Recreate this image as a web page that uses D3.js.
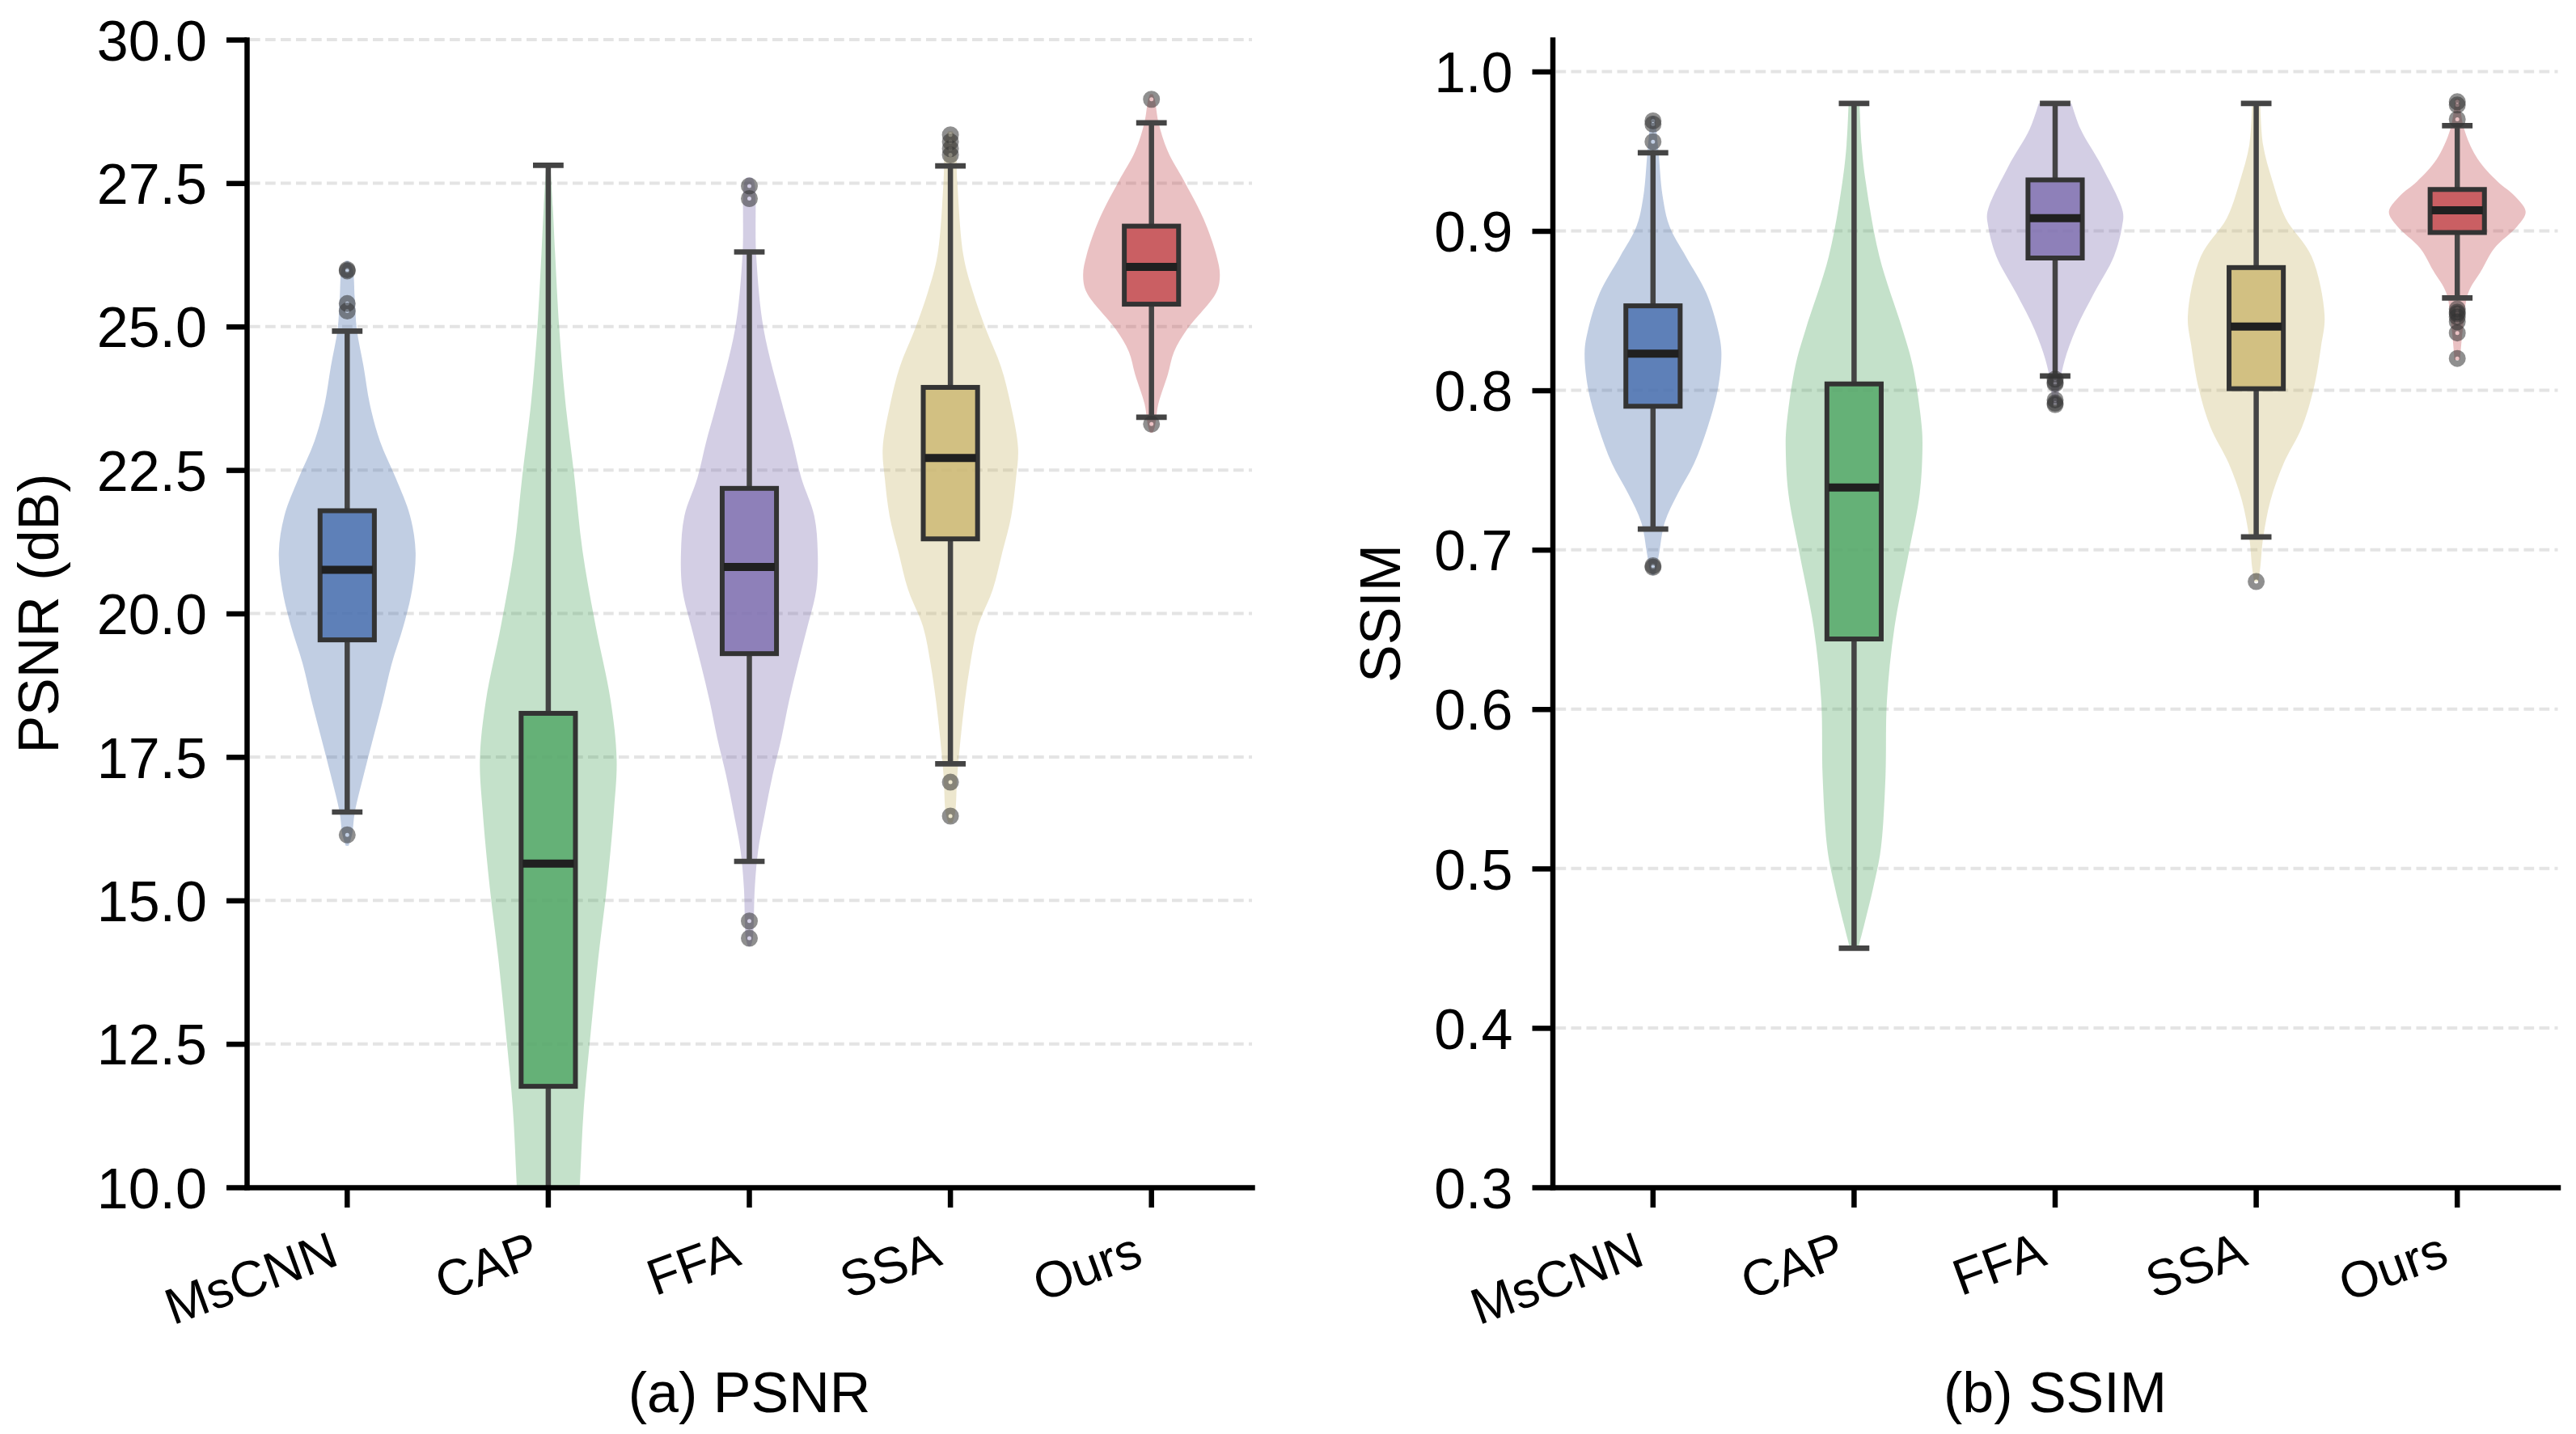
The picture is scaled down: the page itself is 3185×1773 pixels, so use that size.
<!DOCTYPE html>
<html><head><meta charset="utf-8">
<script src="https://cdn.jsdelivr.net/npm/d3@7"></script>
<style>
html,body{margin:0;padding:0;background:#fff;}
svg{display:block;font-family:"Liberation Sans",Arial,Helvetica,sans-serif;}
</style>
</head><body>
<svg id="chart" width="3185" height="1773"></svg>
<script>
// ---------------- DATA ----------------
const categories = ["MsCNN", "CAP", "FFA", "SSA", "Ours"];
const groupColors = ["#4C72B0", "#55A868", "#8172B2", "#CCB974", "#C44E52"];

const psnrTicks = [10.0, 12.5, 15.0, 17.5, 20.0, 22.5, 25.0, 27.5, 30.0];
const ssimTicks = [0.3, 0.4, 0.5, 0.6, 0.7, 0.8, 0.9, 1.0];

// PSNR box statistics
const psnrQ1 = [19.54, 11.76, 19.30, 21.30, 25.39];
const psnrMedian = [20.76, 15.64, 20.81, 22.71, 26.04];
const psnrQ3 = [21.79, 18.26, 22.18, 23.94, 26.75];
const psnrWhiskerLow = [16.54, 5.0, 15.68, 17.38, 23.42];
const psnrWhiskerHigh = [24.92, 27.81, 26.30, 27.80, 28.55];
const psnrOutliers = [
  [25.99, 25.97, 25.40, 25.27, 16.14],
  [],
  [27.45, 27.23, 14.64, 14.34],
  [28.34, 28.22, 28.10, 27.99, 17.06, 16.47],
  [28.96, 23.30]
];
// PSNR violin outlines: [value, relative half-width]
const psnrViolins = [
  [[26.15,0.02],[26.0,0.08],[25.5,0.11],[24.95,0.14],[24.3,0.24],[23.65,0.33],[23.0,0.48],[22.36,0.71],[21.7,0.92],[21.07,1.0],[20.42,0.95],[19.77,0.82],[19.12,0.65],[18.47,0.52],[17.83,0.38],[17.18,0.24],[16.53,0.11],[16.14,0.07],[15.95,0.02]],
  [[27.82,0.03],[27.0,0.07],[26.27,0.1],[24.98,0.16],[23.69,0.25],[22.4,0.38],[21.1,0.5],[19.8,0.69],[18.5,0.91],[17.47,1.0],[16.56,0.96],[15.27,0.86],[13.98,0.73],[12.69,0.62],[11.4,0.52],[10.0,0.46],[8.5,0.4],[7.0,0.33]],
  [[27.6,0.03],[27.53,0.07],[26.24,0.1],[24.95,0.21],[23.65,0.48],[23.0,0.63],[22.36,0.76],[21.7,0.95],[21.07,1.0],[20.42,0.98],[19.77,0.85],[19.12,0.71],[18.47,0.58],[17.83,0.47],[17.18,0.34],[16.53,0.23],[15.88,0.13],[15.23,0.08],[14.33,0.05],[14.2,0.02]],
  [[28.4,0.03],[28.31,0.07],[27.53,0.1],[26.24,0.19],[25.6,0.33],[24.95,0.52],[24.3,0.74],[23.65,0.88],[22.88,0.99],[22.36,0.96],[21.7,0.89],[21.07,0.76],[20.42,0.62],[19.77,0.4],[19.12,0.29],[18.47,0.21],[17.83,0.15],[17.18,0.1],[16.53,0.07],[16.35,0.03]],
  [[29.05,0.02],[28.95,0.05],[28.57,0.1],[28.05,0.24],[27.53,0.48],[26.88,0.76],[26.24,0.95],[25.9,1.0],[25.6,0.95],[24.95,0.52],[24.56,0.33],[24.17,0.24],[23.65,0.1],[23.26,0.05],[23.15,0.02]]
];

// SSIM box statistics
const ssimQ1 = [0.790, 0.644, 0.883, 0.801, 0.899];
const ssimMedian = [0.823, 0.739, 0.908, 0.840, 0.913];
const ssimQ3 = [0.853, 0.804, 0.932, 0.877, 0.926];
const ssimWhiskerLow = [0.713, 0.450, 0.809, 0.708, 0.858];
const ssimWhiskerHigh = [0.949, 0.980, 0.980, 0.980, 0.966];
const ssimOutliers = [
  [0.969, 0.967, 0.956, 0.690, 0.689],
  [],
  [0.807, 0.805, 0.804, 0.794, 0.792, 0.791],
  [0.680],
  [0.981, 0.979, 0.970, 0.851, 0.849, 0.848, 0.846, 0.843, 0.836, 0.820]
];
const ssimViolins = [
  [[0.972,0.03],[0.95,0.08],[0.922,0.14],[0.903,0.24],[0.884,0.48],[0.861,0.78],[0.838,0.95],[0.824,1.0],[0.801,0.95],[0.777,0.8],[0.754,0.6],[0.735,0.36],[0.717,0.17],[0.698,0.09],[0.686,0.04],[0.684,0.02]],
  [[0.98,0.08],[0.954,0.11],[0.931,0.17],[0.884,0.37],[0.838,0.71],[0.815,0.86],[0.777,0.99],[0.763,1.0],[0.735,0.96],[0.698,0.8],[0.651,0.59],[0.605,0.48],[0.558,0.46],[0.512,0.39],[0.488,0.28],[0.465,0.15],[0.45,0.06]],
  [[0.98,0.24],[0.964,0.37],[0.94,0.69],[0.912,0.99],[0.903,0.98],[0.884,0.86],[0.861,0.57],[0.838,0.30],[0.819,0.14],[0.805,0.07],[0.791,0.04]],
  [[0.98,0.06],[0.954,0.1],[0.931,0.24],[0.908,0.43],[0.884,0.81],[0.847,1.0],[0.828,0.95],[0.801,0.84],[0.777,0.67],[0.754,0.4],[0.731,0.21],[0.707,0.1],[0.689,0.06],[0.68,0.03]],
  [[0.983,0.03],[0.964,0.1],[0.945,0.3],[0.931,0.59],[0.922,0.84],[0.912,1.0],[0.903,0.88],[0.889,0.54],[0.875,0.35],[0.861,0.16],[0.838,0.08],[0.819,0.04]]
];

// ---------------- LAYOUT ----------------
const svg = d3.select("#chart");
const TOP = 49, BOTTOM = 1468;
const FONT = "'Liberation Sans', Arial, sans-serif";

const panels = [
  { id: "psnr", left: 305, right: 1548, domain: [10, 30], ticks: psnrTicks, fmt: d3.format(".1f"),
    ylabel: "PSNR (dB)", ylabelX: 72, title: "(a) PSNR",
    q1: psnrQ1, med: psnrMedian, q3: psnrQ3, lo: psnrWhiskerLow, hi: psnrWhiskerHigh,
    outliers: psnrOutliers, violins: psnrViolins },
  { id: "ssim", left: 1919.5, right: 3162.5, domain: [0.3, 1.02], ticks: ssimTicks, fmt: d3.format(".1f"),
    ylabel: "SSIM", ylabelX: 1731, title: "(b) SSIM",
    q1: ssimQ1, med: ssimMedian, q3: ssimQ3, lo: ssimWhiskerLow, hi: ssimWhiskerHigh,
    outliers: ssimOutliers, violins: ssimViolins }
];

panels.forEach(p => {
  const g = svg.append("g").attr("class", "panel-" + p.id);
  const y = d3.scaleLinear().domain(p.domain).range([BOTTOM, TOP]);
  const x = d3.scaleBand().domain(categories).range([p.left, p.right]).padding(0);
  const bw = x.bandwidth();
  const cx = c => x(c) + bw / 2;
  const violinHalf = bw * 0.34;
  const boxHalf = bw * 0.135;
  const capHalf = bw * 0.076;

  // clip
  const clipId = "clip-" + p.id;
  g.append("clipPath").attr("id", clipId).append("rect")
    .attr("x", p.left).attr("y", TOP - 30).attr("width", p.right - p.left).attr("height", BOTTOM - TOP + 30);

  // grid
  g.append("g").selectAll("line").data(p.ticks).join("line")
    .attr("x1", p.left + 4).attr("x2", p.right)
    .attr("y1", d => y(d)).attr("y2", d => y(d))
    .attr("stroke", "#e4e4e4").attr("stroke-width", 4).attr("stroke-dasharray", "12.7,6.3");

  const plot = g.append("g").attr("clip-path", `url(#${clipId})`);

  // violins
  categories.forEach((c, i) => {
    const area = d3.area()
      .curve(d3.curveCatmullRom.alpha(0.5))
      .y(d => y(d[0]))
      .x0(d => cx(c) - d[1] * violinHalf)
      .x1(d => cx(c) + d[1] * violinHalf);
    plot.append("path").datum(p.violins[i]).attr("d", area)
      .attr("fill", groupColors[i]).attr("fill-opacity", 0.35).attr("stroke", "none");
  });

  // boxes
  categories.forEach((c, i) => {
    const xc = cx(c);
    const bg = plot.append("g");
    // whiskers
    bg.append("line").attr("x1", xc).attr("x2", xc).attr("y1", y(p.q3[i])).attr("y2", y(p.hi[i]))
      .attr("stroke", "#444444").attr("stroke-width", 6.5);
    bg.append("line").attr("x1", xc).attr("x2", xc).attr("y1", y(p.q1[i])).attr("y2", y(p.lo[i]))
      .attr("stroke", "#444444").attr("stroke-width", 6.5);
    // caps
    [p.hi[i], p.lo[i]].forEach(v => {
      bg.append("line").attr("x1", xc - capHalf).attr("x2", xc + capHalf).attr("y1", y(v)).attr("y2", y(v))
        .attr("stroke", "#444444").attr("stroke-width", 6.7);
    });
    // box
    bg.append("rect").attr("x", xc - boxHalf).attr("width", 2 * boxHalf)
      .attr("y", y(p.q3[i])).attr("height", y(p.q1[i]) - y(p.q3[i]))
      .attr("fill", groupColors[i]).attr("fill-opacity", 0.85)
      .attr("stroke", "#333333").attr("stroke-width", 6);
    // median
    bg.append("line").attr("x1", xc - boxHalf + 2).attr("x2", xc + boxHalf - 2)
      .attr("y1", y(p.med[i])).attr("y2", y(p.med[i]))
      .attr("stroke", "#202020").attr("stroke-width", 10);
    // outliers
    bg.selectAll("circle").data(p.outliers[i]).join("circle")
      .attr("cx", xc).attr("cy", d => y(d)).attr("r", 6.5)
      .attr("fill", "none").attr("stroke", "#333333").attr("stroke-opacity", 0.55).attr("stroke-width", 8);
  });

  // y axis
  const ya = g.append("g").attr("transform", `translate(${p.left},0)`)
    .call(d3.axisLeft(y).tickValues(p.ticks).tickFormat(p.fmt).tickSize(25).tickSizeOuter(0).tickPadding(24));
  ya.select(".domain").attr("stroke", "#000").attr("stroke-width", 6.5).attr("stroke-linecap", "square");
  ya.selectAll(".tick line").attr("stroke", "#000").attr("stroke-width", 6.5);
  ya.selectAll(".tick text").attr("font-size", 70).attr("fill", "#000")
    .attr("font-family", FONT).attr("dy", "0.36em");

  // x axis
  const xa = g.append("g").attr("transform", `translate(0,${BOTTOM})`)
    .call(d3.axisBottom(x).tickSize(25).tickSizeOuter(0));
  xa.select(".domain").attr("stroke", "#000").attr("stroke-width", 6.5).attr("stroke-linecap", "square");
  xa.selectAll(".tick line").attr("stroke", "#000").attr("stroke-width", 6.5);
  xa.selectAll(".tick text")
    .attr("font-size", 63).attr("fill", "#000")
    .attr("font-family", FONT)
    .attr("text-anchor", "end")
    .attr("x", null).attr("y", null).attr("dy", null)
    .attr("transform", "translate(-8,95) rotate(-20)");

  // y label
  g.append("text")
    .attr("transform", `translate(${p.ylabelX},${(TOP + BOTTOM) / 2}) rotate(-90)`)
    .attr("text-anchor", "middle").attr("font-size", 70).attr("fill", "#000")
    .attr("font-family", FONT)
    .text(p.ylabel);

  // panel title
  g.append("text")
    .attr("x", (p.left + p.right) / 2).attr("y", 1746)
    .attr("text-anchor", "middle").attr("font-size", 70).attr("fill", "#000")
    .attr("font-family", FONT)
    .text(p.title);
});
</script>
</body></html>
